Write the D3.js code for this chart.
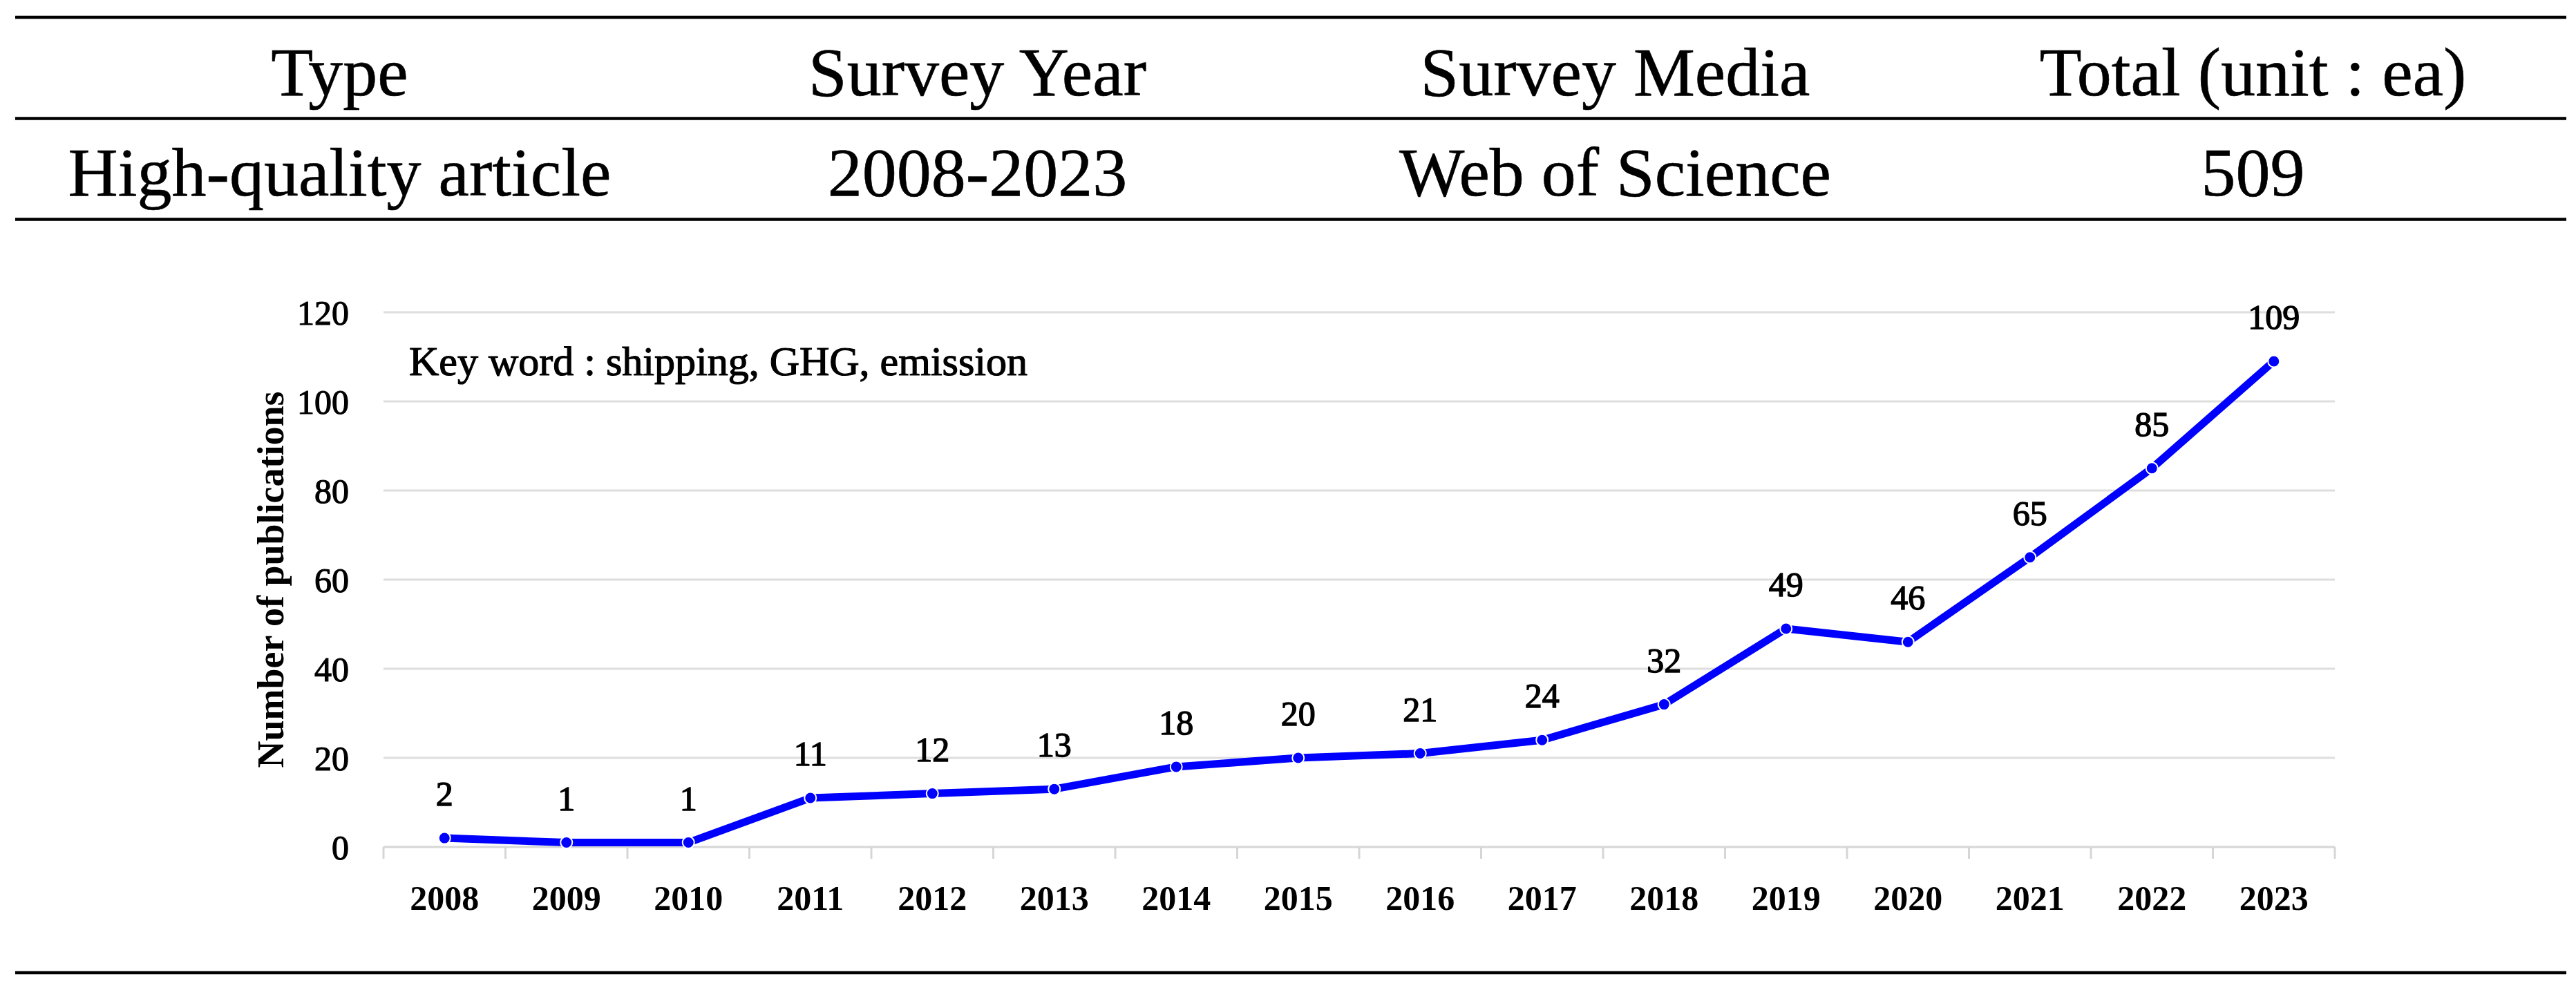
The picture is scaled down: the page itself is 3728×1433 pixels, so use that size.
<!DOCTYPE html>
<html>
<head>
<meta charset="utf-8">
<script src="https://cdn.jsdelivr.net/npm/d3@7/dist/d3.min.js"></script>
<style>
  html, body { margin: 0; padding: 0; background: #fff; }
  svg { display: block; }
</style>
</head>
<body>
<svg id="chart" width="3728" height="1433"></svg>
<script>
// ---- data ----
const tableHeaders = ["Type", "Survey Year", "Survey Media", "Total (unit : ea)"];
const tableRow = ["High-quality article", "2008-2023", "Web of Science", "509"];
const years = ["2008","2009","2010","2011","2012","2013","2014","2015","2016","2017","2018","2019","2020","2021","2022","2023"];
const publications = [2, 1, 1, 11, 12, 13, 18, 20, 21, 24, 32, 49, 46, 65, 85, 109];
const yTicks = [0, 20, 40, 60, 80, 100, 120];
const yAxisTitle = "Number of publications";
const keywordNote = "Key word : shipping, GHG, emission";

const serif = "'Liberation Serif', 'Times New Roman', Times, serif";
const svg = d3.select("#chart");

// ---- table ----
const colScale = d3.scaleBand().domain(d3.range(tableHeaders.length)).range([30, 3722]);
const ruleY = [25, 171.5, 317.5, 1408];
svg.selectAll("line.rule").data(ruleY).join("line")
  .attr("class", "rule")
  .attr("x1", 22).attr("x2", 3714)
  .attr("y1", d => d).attr("y2", d => d)
  .attr("stroke", "#000").attr("stroke-width", 4.5);

svg.selectAll("text.hdr").data(tableHeaders).join("text")
  .attr("class", "hdr")
  .attr("x", (d, i) => colScale(i) + colScale.bandwidth() / 2)
  .attr("y", 138)
  .attr("text-anchor", "middle")
  .attr("font-family", serif).attr("font-size", 100)
  .attr("stroke", "#000").attr("stroke-width", 0.6)
  .text(d => d);

svg.selectAll("text.row").data(tableRow).join("text")
  .attr("class", "row")
  .attr("x", (d, i) => colScale(i) + colScale.bandwidth() / 2)
  .attr("y", 283)
  .attr("text-anchor", "middle")
  .attr("font-family", serif).attr("font-size", 100)
  .attr("stroke", "#000").attr("stroke-width", 0.6)
  .text(d => d);

// ---- chart ----
const x = d3.scaleBand().domain(years).range([555, 3379]).padding(0);
const y = d3.scaleLinear().domain([0, 120]).range([1226, 452]);

// gridlines
svg.append("g")
  .selectAll("line").data(yTicks.filter(t => t > 0)).join("line")
  .attr("x1", x.range()[0]).attr("x2", x.range()[1])
  .attr("y1", d => y(d)).attr("y2", d => y(d))
  .attr("stroke", "#dedede").attr("stroke-width", 3);

// x axis
const xAxis = svg.append("g")
  .attr("transform", `translate(0,${y(0)})`);
xAxis.append("line")
  .attr("x1", x.range()[0]).attr("x2", x.range()[1])
  .attr("y1", 0).attr("y2", 0)
  .attr("stroke", "#d6d6d6").attr("stroke-width", 3);
const boundaries = years.map(d => x(d)).concat([x.range()[1]]);
xAxis.selectAll("line.tk").data(boundaries).join("line")
  .attr("class", "tk")
  .attr("x1", d => d).attr("x2", d => d)
  .attr("y1", 0).attr("y2", 17)
  .attr("stroke", "#d6d6d6").attr("stroke-width", 3);
xAxis.selectAll("text").data(years).join("text")
  .attr("x", d => x(d) + x.bandwidth() / 2)
  .attr("y", 91)
  .attr("text-anchor", "middle")
  .attr("font-family", serif).attr("font-size", 50).attr("font-weight", "bold")
  .text(d => d);

// y axis labels
svg.append("g").selectAll("text").data(yTicks).join("text")
  .attr("x", 505)
  .attr("y", d => y(d))
  .attr("dy", "0.35em")
  .attr("text-anchor", "end")
  .attr("font-family", serif).attr("font-size", 50)
  .attr("stroke", "#000").attr("stroke-width", 1.2)
  .text(d => d);

// y axis title
svg.append("text")
  .attr("transform", `translate(410,${(y(0) + y(120)) / 2}) rotate(-90)`)
  .attr("text-anchor", "middle")
  .attr("font-family", serif).attr("font-size", 54).attr("font-weight", "bold")
  .text(yAxisTitle);

// keyword note
svg.append("text")
  .attr("x", 592).attr("y", 543)
  .attr("font-family", serif).attr("font-size", 60)
  .attr("stroke", "#000").attr("stroke-width", 1.2)
  .text(keywordNote);

// line
const pts = years.map((d, i) => ({ year: d, value: publications[i] }));
const line = d3.line()
  .x(d => x(d.year) + x.bandwidth() / 2)
  .y(d => y(d.value));
svg.append("path")
  .datum(pts)
  .attr("d", line)
  .attr("fill", "none")
  .attr("stroke", "#0000ff")
  .attr("stroke-width", 11)
  .attr("stroke-linejoin", "round");

svg.append("g").selectAll("circle").data(pts).join("circle")
  .attr("cx", d => x(d.year) + x.bandwidth() / 2)
  .attr("cy", d => y(d.value))
  .attr("r", 8.5)
  .attr("fill", "#0000ff")
  .attr("stroke", "#fff")
  .attr("stroke-width", 2);

// data labels
svg.append("g").selectAll("text").data(pts).join("text")
  .attr("x", d => x(d.year) + x.bandwidth() / 2)
  .attr("y", d => y(d.value) - 47)
  .attr("text-anchor", "middle")
  .attr("font-family", serif).attr("font-size", 50)
  .attr("stroke", "#000").attr("stroke-width", 1.4)
  .text(d => d.value);
</script>
</body>
</html>
